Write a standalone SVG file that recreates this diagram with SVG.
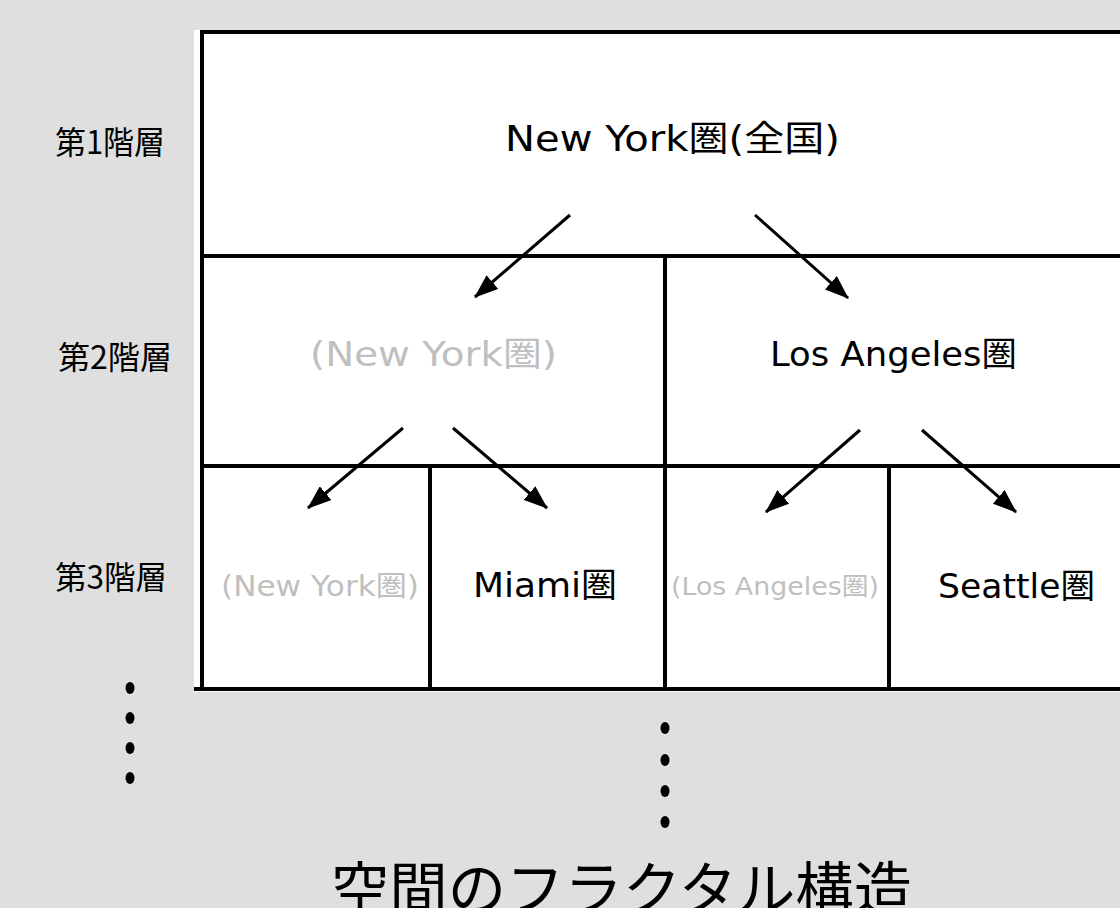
<svg xmlns="http://www.w3.org/2000/svg" width="1120" height="908" viewBox="0 0 1120 908">
<defs>
<style>
.t{font-family:"DejaVu Sans","Noto Sans CJK JP",sans-serif;fill:#000}
.j{font-family:"Noto Sans CJK JP",sans-serif;fill:#000}
.g{fill:#bfbfbf}
.ln{stroke:#000;stroke-width:4;fill:none}
.ar{stroke:#000;stroke-width:3;fill:none;marker-end:url(#ah)}
</style>
<marker id="ah" markerWidth="24" markerHeight="18" refX="23" refY="9" orient="auto" markerUnits="userSpaceOnUse" viewBox="0 0 24 18">
<path d="M0,0 L24,9 L0,18 z" fill="#000"/>
</marker>
</defs>
<rect x="0" y="0" width="1120" height="908" fill="#dfdfdf"/>
<rect x="194" y="30" width="926" height="662" fill="#fff"/>
<g id="grid">
<path class="ln" d="M202,32 V689 M200,32 H1120 M200,256 H1120 M200,466 H1120 M194,689 H1120 M665,256 V689 M430,466 V689 M889,466 V689"/>
</g>
<g id="labels">
<text class="j" x="55" y="154" font-size="32" textLength="110" lengthAdjust="spacingAndGlyphs">第1階層</text>
<text class="j" x="58" y="369" font-size="32" textLength="114" lengthAdjust="spacingAndGlyphs">第2階層</text>
<text class="j" x="55" y="589" font-size="32" textLength="112" lengthAdjust="spacingAndGlyphs">第3階層</text>
</g>
<g id="n1"><text class="t" x="505" y="151" font-size="35" textLength="335" lengthAdjust="spacingAndGlyphs">New York圏(全国)</text></g>
<g id="n2a"><text class="t g" x="310" y="366" font-size="34" textLength="247" lengthAdjust="spacingAndGlyphs">(New York圏)</text></g>
<g id="n2b"><text class="t" x="770" y="366" font-size="34" textLength="247" lengthAdjust="spacingAndGlyphs">Los Angeles圏</text></g>
<g id="n3a"><text class="t g" x="221" y="596" font-size="28" textLength="198" lengthAdjust="spacingAndGlyphs">(New York圏)</text></g>
<g id="n3b"><text class="t" x="473" y="597" font-size="34" textLength="144" lengthAdjust="spacingAndGlyphs">Miami圏</text></g>
<g id="n3c"><text class="t g" x="671" y="595" font-size="25" textLength="208" lengthAdjust="spacingAndGlyphs">(Los Angeles圏)</text></g>
<g id="n3d"><text class="t" x="938" y="598" font-size="34" textLength="157" lengthAdjust="spacingAndGlyphs">Seattle圏</text></g>
<g id="connectors">
<line class="ar" x1="570" y1="215" x2="475" y2="297"/>
<line class="ar" x1="755" y1="215" x2="848" y2="298"/>
<line class="ar" x1="403" y1="428" x2="308" y2="508"/>
<line class="ar" x1="453" y1="428" x2="547" y2="508"/>
<line class="ar" x1="860" y1="430" x2="766" y2="512"/>
<line class="ar" x1="922" y1="430" x2="1016" y2="512"/>
</g>
<g id="dots" fill="#000">
<ellipse cx="130" cy="688" rx="4.5" ry="6"/>
<ellipse cx="130" cy="718" rx="4.5" ry="6"/>
<ellipse cx="130" cy="748" rx="4.5" ry="6"/>
<ellipse cx="130" cy="778" rx="4.5" ry="6"/>
<ellipse cx="665" cy="728" rx="4.5" ry="6"/>
<ellipse cx="665" cy="760" rx="4.5" ry="6"/>
<ellipse cx="665" cy="791" rx="4.5" ry="6"/>
<ellipse cx="665" cy="822" rx="4.5" ry="6"/>
</g>
<g id="title"><text class="j" x="331" y="910" font-size="58" textLength="581" lengthAdjust="spacingAndGlyphs">空間のフラクタル構造</text></g>
</svg>
